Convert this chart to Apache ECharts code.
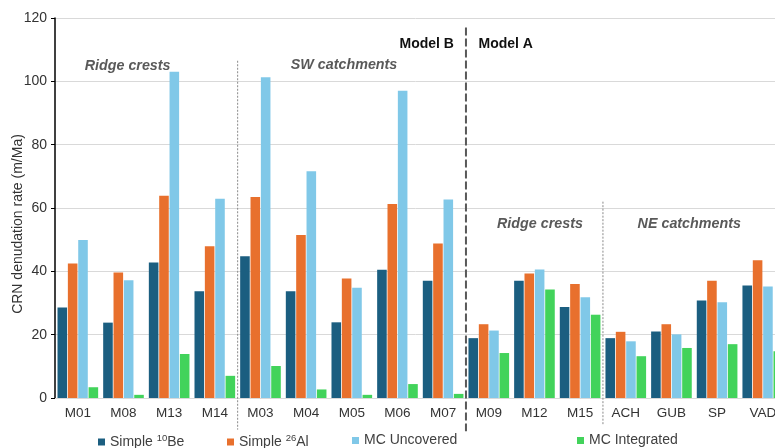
<!DOCTYPE html>
<html>
<head>
<meta charset="utf-8">
<script src="https://cdn.jsdelivr.net/npm/echarts@6/dist/echarts.min.js"></script>
<style>
  html, body { margin: 0; padding: 0; background: #fff; }
  #chart { width: 775px; height: 448px; }
</style>
</head>
<body>
<div id="chart"></div>
<script>
// Sample sites, grouped: Model B (ridge crests, SW catchments) then Model A (ridge crests, NE catchments)
const categories = ['M01', 'M08', 'M13', 'M14', 'M03', 'M04', 'M05', 'M06', 'M07',
                    'M09', 'M12', 'M15', 'ACH', 'GUB', 'SP', 'VAD'];

// CRN denudation rates (m/Ma)
const simpleBe10   = [28.6, 23.8, 42.8, 33.7, 44.8, 33.7, 23.9, 40.5, 37.0, 18.9, 37.0, 28.7, 18.9, 21.0, 30.8, 35.5];
const simpleAl26   = [42.5, 39.6, 63.9, 47.9, 63.5, 51.5, 37.7, 61.3, 48.8, 23.3, 39.3, 36.0, 20.9, 23.3, 37.0, 43.5];
const mcUncovered  = [49.9, 37.2, 103.0, 62.9, 101.3, 71.6, 34.8, 97.0, 62.7, 21.3, 40.6, 31.8, 17.9, 20.1, 30.2, 35.2];
const mcIntegrated = [3.4, 1.0, 13.9, 7.0, 10.1, 2.7, 1.0, 4.4, 1.3, 14.2, 34.3, 26.3, 13.2, 15.8, 17.0, 14.8];

const yTicks = [0, 20, 40, 60, 80, 100, 120];

const seriesNames = ['Simple 10Be', 'Simple 26Al', 'MC Uncovered', 'MC Integrated'];
const seriesData = [simpleBe10, simpleAl26, mcUncovered, mcIntegrated];
const colors = ['#1b5e80', '#e8702d', '#80c8e8', '#42d35b'];

const FONT = '"Liberation Sans", Arial, sans-serif';

const chart = echarts.init(document.getElementById('chart'), null, { renderer: 'canvas' });

const legendRich = {
  t: { fontSize: 14, color: '#404040', fontFamily: FONT },
  s: { fontSize: 9.5, color: '#404040', fontFamily: FONT, padding: [0, 0, 7, 0] }
};
function legendLabel(name) {
  if (name === 'Simple 10Be') return '{t|Simple }{s|10}{t|Be}';
  if (name === 'Simple 26Al') return '{t|Simple }{s|26}{t|Al}';
  return '{t|' + name + '}';
}
const legendLeft = [98, 227, 352, 577];

chart.setOption({
  animation: false,
  textStyle: { fontFamily: FONT },
  // the plot area runs past the right edge of the canvas (last category is cut off)
  grid: { left: 55, top: 18, width: 730.6, height: 380, containLabel: false, outerBoundsMode: 'none' },
  legend: seriesNames.map((n, i) => ({
    data: [n],
    left: legendLeft[i],
    top: 433.5,
    padding: 0,
    icon: 'rect',
    itemWidth: 7,
    itemHeight: 7,
    itemGap: 0,
    formatter: legendLabel,
    textStyle: { rich: legendRich, fontFamily: FONT }
  })),
  xAxis: {
    type: 'category',
    data: categories,
    axisLine: { lineStyle: { color: '#d9d9d9', width: 1 } },
    axisTick: { show: false },
    axisLabel: { color: '#333', fontSize: 13.5, margin: 8, interval: 0, fontFamily: FONT }
  },
  yAxis: {
    type: 'value',
    min: yTicks[0],
    max: yTicks[yTicks.length - 1],
    interval: 20,
    axisLine: { show: true, lineStyle: { color: '#000', width: 1.5 } },
    axisTick: { show: true, length: 4, lineStyle: { color: '#000' } },
    axisLabel: { color: '#333', fontSize: 14, margin: 8, fontFamily: FONT },
    splitLine: { lineStyle: { color: '#d9d9d9', width: 1 } }
  },
  series: seriesNames.map((n, i) => ({
    name: n,
    type: 'bar',
    data: seriesData[i],
    barCategoryGap: '11%',
    barGap: '8%',
    itemStyle: { color: colors[i] }
  }))
});

// Annotations placed through the axes: fractional category index and data value
function px(catPos, value) {
  const c0 = chart.convertToPixel({ xAxisIndex: 0 }, categories[0]);
  const c1 = chart.convertToPixel({ xAxisIndex: 0 }, categories[1]);
  const step = c1 - c0;
  return [c0 + catPos * step, chart.convertToPixel({ yAxisIndex: 0 }, value)];
}

function vline(boundary, yTop, yBottom, style) {
  const a = px(boundary - 0.5, yTop);
  const b = px(boundary - 0.5, yBottom);
  return {
    type: 'line',
    shape: { x1: a[0], y1: a[1], x2: b[0], y2: b[1] },
    style: style,
    z: 10
  };
}

function label(text, catPos, value, style) {
  const p = px(catPos, value);
  return {
    type: 'text',
    x: p[0],
    y: p[1],
    style: Object.assign({
      text: text,
      align: 'center',
      verticalAlign: 'middle',
      fontFamily: FONT
    }, style),
    z: 10
  };
}

const groupStyle = { fontSize: 14.3, fontWeight: 'bold', fontStyle: 'italic', fill: '#595959' };
const modelStyle = { fontSize: 14, fontWeight: 'bold', fill: '#111' };
const thinDotted = { stroke: '#8a8a8a', lineWidth: 1, lineDash: [2, 1.5] };
const thickDashed = { stroke: '#595959', lineWidth: 2, lineDash: [8, 3] };

const yName = {
  type: 'text',
  x: 18.5,
  y: 224,
  rotation: Math.PI / 2,
  style: { text: 'CRN denudation rate (m/Ma)', align: 'center', verticalAlign: 'middle',
           fontSize: 14, fill: '#333', fontFamily: FONT }
};

chart.setOption({
  graphic: [
    vline(4, 106.5, -10, thinDotted),
    vline(9, 117, -10.5, thickDashed),
    vline(12, 62, -8.5, thinDotted),
    label('Ridge crests', 1.09, 104.8, groupStyle),
    label('SW catchments', 5.83, 105.1, groupStyle),
    label('Model B', 7.64, 111.8, modelStyle),
    label('Model A', 9.37, 111.9, modelStyle),
    label('Ridge crests', 10.12, 55, groupStyle),
    label('NE catchments', 13.39, 55, groupStyle),
    yName
  ]
});
</script>
</body>
</html>
